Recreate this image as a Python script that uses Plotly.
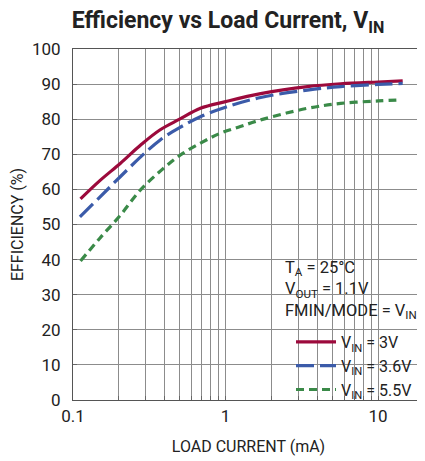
import plotly.graph_objects as go
import numpy as np

# Data
i_3v = [0.112, 0.15, 0.204, 0.28, 0.373, 0.5, 0.684, 1.0, 1.7, 3.44, 5.69, 10.0, 14.5]
eff_3v = [57.3, 62.5, 67.4, 72.8, 77.0, 80.0, 83.1, 85.0, 87.3, 89.3, 90.1, 90.6, 90.9]

i_36v = [0.111, 0.15, 0.204, 0.28, 0.373, 0.5, 0.684, 1.0, 1.7, 3.44, 5.69, 10.0, 14.5]
eff_36v = [52.2, 57.8, 63.6, 69.4, 74.1, 77.6, 80.7, 83.4, 86.2, 88.3, 89.3, 89.9, 90.2]

i_55v = [0.112, 0.15, 0.204, 0.276, 0.38, 0.506, 0.7, 0.925, 1.25, 1.7, 3.44, 5.69, 10.0, 14.0]
eff_55v = [39.6, 46.1, 52.6, 59.8, 65.5, 69.8, 73.4, 76.0, 77.9, 79.8, 83.1, 84.5, 85.2, 85.5]

x_grid = [0.1, 0.2, 0.3, 0.4, 0.5, 0.6, 0.7, 0.8, 0.9, 1, 2, 3, 4, 5, 6, 7, 8, 9, 10, 20]
x_labels = {0.1: "0.1", 1: "1", 10: "10"}
y_ticks = list(range(0, 101, 10))

FONT = "Roboto, Liberation Sans, sans-serif"

fig = go.Figure()
fig.add_trace(go.Scatter(x=i_3v, y=eff_3v, mode="lines", line=dict(color="#9c0a3c", width=3.2, shape="spline"),
                         name="V<sub>IN</sub> = 3V"))
fig.add_trace(go.Scatter(x=i_36v, y=eff_36v, mode="lines", line=dict(color="#3b5ba9", width=3.2, dash="18px,6px", shape="spline"),
                         name="V<sub>IN</sub> = 3.6V"))
fig.add_trace(go.Scatter(x=i_55v, y=eff_55v, mode="lines", line=dict(color="#3a8a48", width=3.2, dash="8px,5px", shape="spline"),
                         name="V<sub>IN</sub> = 5.5V"))

# page offset (browser body margin)
OFF = 8
W, H = 425, 461
L, R, T, B = 65, 9, 41, 69
pw, ph = W - L - R, H - T - B

def px_x(p):
    return (p - OFF - L) / pw

def px_y(p):
    return (H - B - (p - OFF)) / ph

fig.add_shape(type="rect", xref="paper", yref="paper",
              x0=px_x(283), x1=px_x(420), y0=px_y(394), y1=px_y(255),
              fillcolor="white", line=dict(width=0), layer="between")

fig.add_annotation(xref="paper", yref="paper", x=px_x(283), y=px_y(256), xanchor="left", yanchor="top",
                   align="left", showarrow=False,
                   text="T<sub>A</sub> = 25°C<br>V<sub>OUT</sub> = 1.1V<br>FMIN/MODE = V<sub>IN</sub>",
                   font=dict(family=FONT, size=16.5, color="#222"))

fig.update_layout(
    width=W, height=H,
    margin=dict(l=L, r=R, t=T, b=B),
    paper_bgcolor="white", plot_bgcolor="white",
    font=dict(family=FONT, color="#222"),
    title=dict(text="<b>Efficiency vs Load Current, V<sub>IN</sub></b>", x=(228 - OFF) / W, xanchor="center",
               y=1 - (20 - OFF) / H, yanchor="middle", font=dict(family=FONT, size=23, color="#222")),
    showlegend=True,
    legend=dict(x=px_x(291), y=px_y(325), xanchor="left", yanchor="top", bgcolor="rgba(0,0,0,0)",
                font=dict(family=FONT, size=16, color="#222"), tracegroupgap=0, itemwidth=40),
    xaxis=dict(type="log", range=[-1, np.log10(20)], tickvals=x_grid,
               ticktext=[x_labels.get(v, "") for v in x_grid],
               showgrid=True, gridcolor="#8c8c8c", gridwidth=1,
               showline=True, linecolor="#555", linewidth=1, mirror=True,
               ticks="inside", ticklen=4, tickcolor="#666", automargin=False,
               ticklabelstandoff=1,
               tickfont=dict(family=FONT, size=17, color="#222"),
               title=dict(text="LOAD CURRENT (mA)", font=dict(family=FONT, size=16, color="#222"), standoff=15),
               zeroline=False),
    yaxis=dict(range=[0, 100], tickvals=y_ticks, showgrid=True, gridcolor="#8c8c8c", gridwidth=1,
               showline=True, linecolor="#555", linewidth=1, mirror=True,
               ticks="inside", ticklen=4, tickcolor="#666", automargin=False,
               ticklabelstandoff=8,
               tickfont=dict(family=FONT, size=17, color="#222"),
               title=dict(text="EFFICIENCY (%)", font=dict(family=FONT, size=16, color="#222"), standoff=5),
               zeroline=False),
)

fig.write_html("out.html")
